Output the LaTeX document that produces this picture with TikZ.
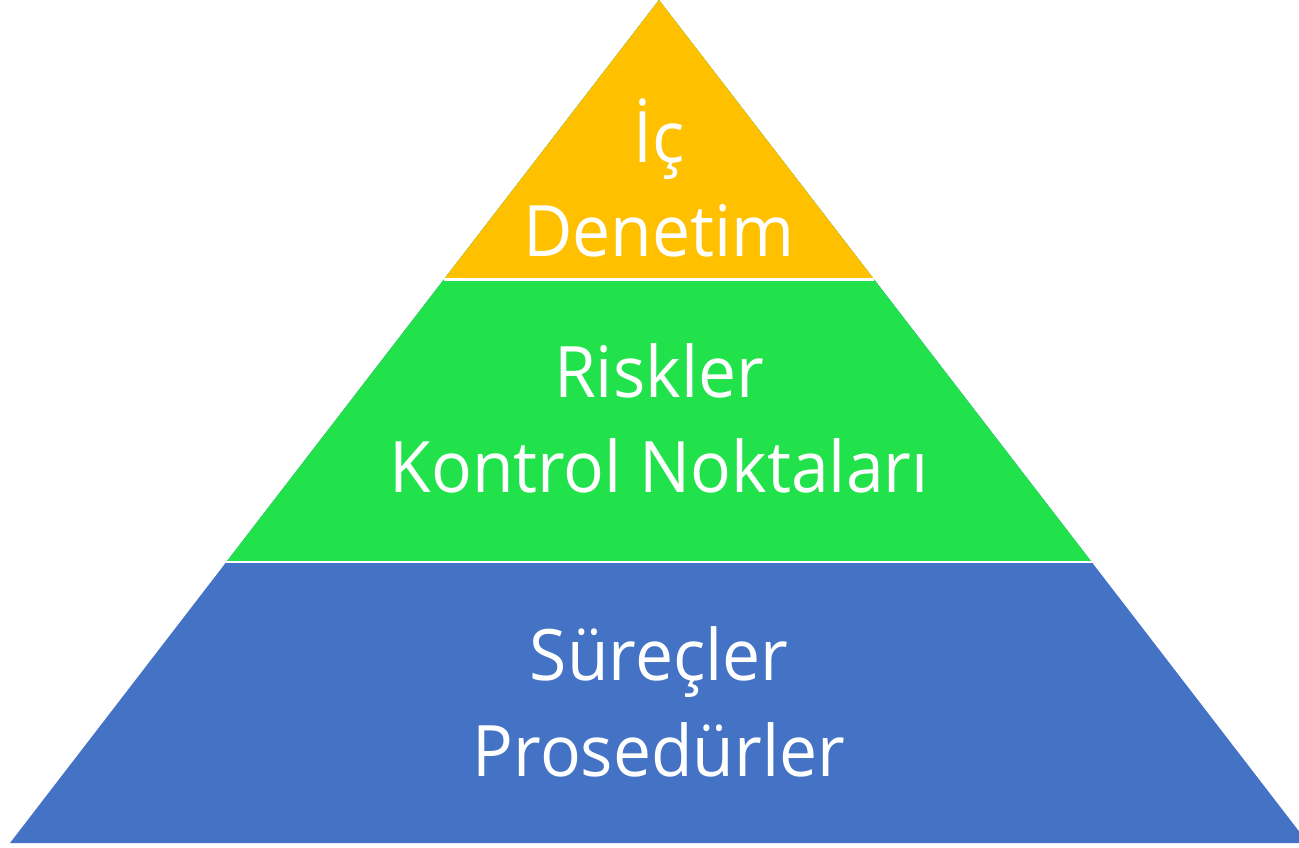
\documentclass[tikz,border=0pt]{standalone}
\usepackage{fontspec}
\usetikzlibrary{calc}
\setmainfont{Open Sans}[FakeStretch=0.955]
\definecolor{tepe}{HTML}{FFC000}
\definecolor{orta}{HTML}{22E24B}
\definecolor{taban}{HTML}{4472C4}
\tikzset{
  katyazi/.style={text=white,anchor=base,inner sep=0pt,font=\fontsize{71}{85}\selectfont},
  ayrac/.style={draw=white,line width=2.4pt}
}
\begin{document}
\begin{tikzpicture}[x=1pt,y=-1pt]
      \useasboundingbox (0,0) rectangle (1299,847);
      \coordinate (apex) at (659,0);
      \coordinate (sol) at (10,843);
      \coordinate (sag) at (1308,843);
      \clip (0,0) rectangle (1299,847);
      \fill[taban] (apex) -- (sol) -- (sag) -- cycle;
      \fill[orta] (apex) -- ($(apex)!0.6667!(sol)$) -- ($(apex)!0.6667!(sag)$) -- cycle;
      \fill[tepe] (apex) -- ($(apex)!0.3315!(sol)$) -- ($(apex)!0.3315!(sag)$) -- cycle;
      \draw[ayrac] ($(apex)!0.3315!(sol)$) -- ($(apex)!0.3315!(sag)$);
      \draw[ayrac] ($(apex)!0.6667!(sol)$) -- ($(apex)!0.6667!(sag)$);
      \node[katyazi] (ic) at (659,162.7) {İç};
      \node[katyazi] (denetim) at (659,256.7) {Denetim};
      \node[katyazi] (riskler) at (659,397.7) {Riskler};
      \node[katyazi] (kontrol) at (659,492.7) {Kontrol Noktaları};
      \node[katyazi] (surecler) at (659,680) {Süreçler};
      \node[katyazi] (prosedur) at (659,776.7) {Prosedürler};
    \end{tikzpicture}
\end{document}
